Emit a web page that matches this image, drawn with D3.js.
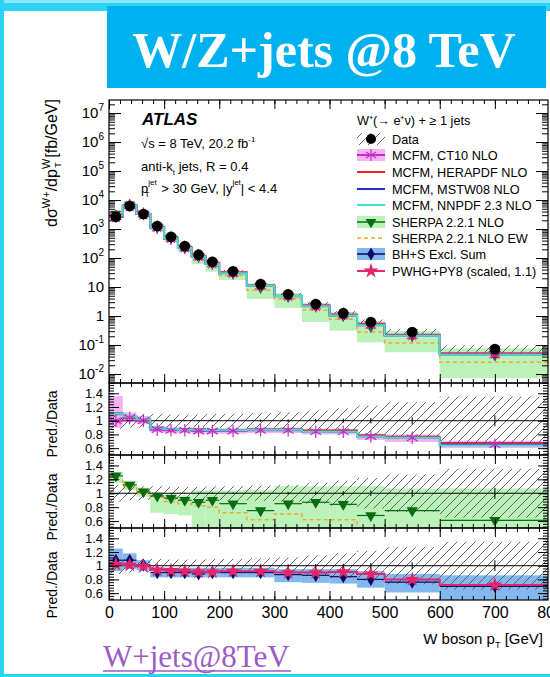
<!DOCTYPE html>
<html>
<head>
<meta charset="utf-8">
<script src="https://d3js.org/d3.v7.min.js"></script>
<style>
body { margin:0; background:#fff; }
svg text { font-family: "Liberation Sans", Arial, sans-serif; fill:#000; }
</style>
</head>
<body>
<svg id="chart" width="550" height="677"></svg>
<script>
// ---- data ----
var binLo = [0,25,50,75,100,125,150,175,200,250,300,350,400,450,500,600];
var binHi = [25,50,75,100,125,150,175,200,250,300,350,400,450,500,600,800];
var dataXs = [2650,6200,3300,1270,540,257,130,74,35,12.6,5.6,2.6,1.25,0.62,0.28,0.072];
var dataErr = [0.12,0.10,0.10,0.10,0.09,0.09,0.09,0.10,0.10,0.11,0.12,0.15,0.18,0.22,0.27,0.35];
var dataStat = [0.005,0.004,0.004,0.005,0.006,0.007,0.008,0.01,0.01,0.015,0.02,0.025,0.03,0.04,0.05,0.08];

var ct10   = [1.00,1.04,1.00,0.87,0.86,0.86,0.85,0.85,0.85,0.86,0.86,0.84,0.84,0.77,0.75,0.65];
var ct10Lo = [0.90,0.98,0.95,0.83,0.82,0.82,0.81,0.81,0.81,0.82,0.82,0.80,0.80,0.72,0.69,0.60];
var ct10Hi = [1.36,1.12,1.07,0.92,0.90,0.90,0.89,0.89,0.89,0.90,0.90,0.88,0.88,0.81,0.80,0.71];
var hera   = [1.09,1.05,1.01,0.89,0.88,0.88,0.88,0.87,0.87,0.88,0.88,0.86,0.86,0.79,0.77,0.68];
var mstw   = [1.11,1.06,1.02,0.90,0.88,0.87,0.87,0.86,0.86,0.87,0.87,0.85,0.84,0.78,0.76,0.66];
var nnpdf  = [1.10,1.06,1.02,0.89,0.88,0.87,0.87,0.86,0.86,0.87,0.87,0.84,0.84,0.77,0.75,0.64];

var sherpa   = [1.25,1.12,1.02,0.96,0.93,0.90,0.87,0.90,0.85,0.75,0.85,0.87,0.84,0.68,0.75,0.61];
var sherpaLo = [1.15,1.05,0.95,0.72,0.70,0.68,0.48,0.46,0.50,0.31,0.34,0.24,0.25,0.20,0.20,0.10];
var sherpaHi = [1.30,1.18,1.08,0.98,0.97,0.97,1.04,1.04,1.04,1.05,1.10,1.10,1.10,1.10,1.07,1.07];
var sherpaEW = [1.20,1.10,1.00,0.94,0.88,0.85,0.82,0.80,0.72,0.62,0.70,0.62,0.62,0.45,0.42,0.35];

var bhs   = [1.08,1.08,1.01,0.90,0.90,0.90,0.88,0.90,0.90,0.90,0.87,0.86,0.84,0.80,0.76,0.70];
var bhsLo = [0.92,0.95,0.93,0.83,0.83,0.83,0.83,0.83,0.83,0.83,0.76,0.75,0.74,0.68,0.61,0.40];
var bhsHi = [1.25,1.18,1.08,0.97,0.97,0.97,0.97,0.97,0.97,0.97,0.95,0.95,0.95,0.92,0.88,0.86];
var pwhg  = [1.02,1.01,0.99,0.94,0.93,0.92,0.91,0.91,0.92,0.92,0.90,0.90,0.91,0.88,0.80,0.72];

var xTickVals = [0,100,200,300,400,500,600,700,800];
var ratioTickVals = [0.6,0.8,1,1.2,1.4];
var decades = [-2,-1,0,1,2,3,4,5,6,7];
var legendLabels = ["Data","MCFM, CT10 NLO","MCFM, HERAPDF NLO","MCFM, MSTW08 NLO","MCFM, NNPDF 2.3 NLO",
  "SHERPA 2.2.1 NLO","SHERPA 2.2.1 NLO EW","BH+S Excl. Sum","PWHG+PY8 (scaled, 1.1)"];

// colours
var cMag = "#c12fc4", cMagBand = "#f6b3f4", cRed = "#e4262c", cBlue = "#2b2bcf", cCyan = "#3fe0cf";
var cGreen = "#0b6b12", cGreenBand = "#baf2b9", cOrange = "#f2a72e";
var cNavy = "#0b0b66", cBlueBand = "#82b8ee", cPink = "#e3256d";

var svg = d3.select("#chart");

// ---- page decoration ----
svg.append("rect").attr("x",0).attr("y",0).attr("width",550).attr("height",11).attr("fill","#2cd3f6");
svg.append("rect").attr("x",0).attr("y",0).attr("width",550).attr("height",3).attr("fill","#8ae8fb");
svg.append("rect").attr("x",0).attr("y",0).attr("width",4).attr("height",677).attr("fill","#2cd3f6");
svg.append("rect").attr("x",0).attr("y",674).attr("width",550).attr("height",3).attr("fill","#2cd3f6");
svg.append("rect").attr("x",107).attr("y",6).attr("width",439).attr("height",82).attr("fill","#00b1ef");
svg.append("text").attr("x",324).attr("y",67).attr("text-anchor","middle")
  .style("font-family","'Liberation Serif', 'Times New Roman', serif").style("font-weight","bold")
  .style("font-size","50px").style("fill","#fff").text("W/Z+jets @8 TeV");

// ---- scales ----
var X0 = 109, X1 = 548;
var x = d3.scaleLinear().domain([0,800]).range([109,550]);
var yMain = d3.scaleLog().domain([Math.pow(10,-2.31), Math.pow(10,7.45)]).range([383,100]);
var panels = [{top:383,bottom:455},{top:455,bottom:528},{top:528,bottom:600}];
var yR = panels.map(function(p){ return d3.scaleLinear().domain([0.5,1.55]).range([p.bottom,p.top]); });

var defs = svg.append("defs");
var pat = defs.append("pattern").attr("id","hatch").attr("patternUnits","userSpaceOnUse")
  .attr("width",9).attr("height",9);
pat.append("path").attr("d","M0,9 L9,0 M-3,3 L3,-3 M6,12 L12,6")
  .attr("stroke","#555").attr("stroke-width",0.9);
[{id:"clipMain",top:100,bottom:383}].concat(panels.map(function(p,i){return {id:"clipR"+i,top:p.top,bottom:p.bottom};}))
  .forEach(function(c){
    defs.append("clipPath").attr("id",c.id).append("rect")
      .attr("x",X0).attr("y",c.top).attr("width",X1-X0).attr("height",c.bottom-c.top);
  });

var idx = d3.range(binLo.length);
function stepPts(vals){
  var pts = [];
  idx.forEach(function(i){ pts.push([binLo[i], vals[i]]); pts.push([binHi[i], vals[i]]); });
  return pts;
}
function mid(i){ return (binLo[i]+binHi[i])/2; }
function times(r){ return r.map(function(v,i){ return v*dataXs[i]; }); }

function drawBand(g, ys, lo, hi, fill){
  g.selectAll(null).data(idx).join("rect")
    .attr("x", function(i){ return x(binLo[i]); })
    .attr("width", function(i){ return x(binHi[i]) - x(binLo[i]); })
    .attr("y", function(i){ return ys(hi[i]); })
    .attr("height", function(i){ return Math.max(0, ys(lo[i]) - ys(hi[i])); })
    .attr("fill", fill);
}
function drawStep(g, ys, vals, color, w, dash){
  var line = d3.line().x(function(d){ return x(d[0]); }).y(function(d){ return ys(d[1]); });
  g.append("path").attr("d", line(stepPts(vals))).attr("fill","none")
    .attr("stroke",color).attr("stroke-width",w).attr("stroke-dasharray",dash||null);
}
function drawHBars(g, ys, vals, color){
  g.selectAll(null).data(idx).join("line")
    .attr("x1", function(i){ return x(binLo[i]); }).attr("x2", function(i){ return x(binHi[i]); })
    .attr("y1", function(i){ return ys(vals[i]); }).attr("y2", function(i){ return ys(vals[i]); })
    .attr("stroke",color).attr("stroke-width",1.2);
}
function drawMarkers(g, ys, vals, type, size, fill, stroke, rot){
  g.selectAll(null).data(idx).join("path")
    .attr("d", d3.symbol().type(type).size(size))
    .attr("transform", function(i){ return "translate("+x(mid(i))+","+ys(vals[i])+")"+(rot?" rotate("+rot+")":""); })
    .attr("fill", fill).attr("stroke", stroke||"none").attr("stroke-width",1.2);
}

// ---- main panel ----
var gm = svg.append("g").attr("clip-path","url(#clipMain)");
drawBand(gm, yMain, times(bhsLo), times(bhsHi), cBlueBand);
drawBand(gm, yMain, times(sherpaLo), times(sherpaHi), cGreenBand);
drawBand(gm, yMain, times(ct10Lo), times(ct10Hi), cMagBand);
drawBand(gm, yMain, dataXs.map(function(v,i){return v*(1-dataErr[i]);}), dataXs.map(function(v,i){return v*(1+dataErr[i]);}), "url(#hatch)");
drawStep(gm, yMain, times(sherpaEW), cOrange, 1.5, "4,3");
drawStep(gm, yMain, times(ct10), cMag, 2);
drawStep(gm, yMain, times(mstw), cBlue, 1.5);
drawStep(gm, yMain, times(hera), cRed, 1.5);
drawStep(gm, yMain, times(pwhg), cPink, 2);
drawStep(gm, yMain, times(nnpdf), cCyan, 2);
drawMarkers(gm, yMain, times(sherpa), d3.symbolTriangle, 50, cGreen, null, 180);
drawMarkers(gm, yMain, times(bhs), d3.symbolDiamond, 45, cNavy);
drawMarkers(gm, yMain, times(ct10), d3.symbolAsterisk, 110, "none", cMag);
drawMarkers(gm, yMain, times(pwhg), d3.symbolStar, 60, cPink);
drawMarkers(gm, yMain, dataXs, d3.symbolCircle, 90, "#000");

// ---- ratio panels ----
var gr = panels.map(function(p,i){ return svg.append("g").attr("clip-path","url(#clipR"+i+")"); });
var hatchLo = dataErr.map(function(e){ return 1-e; }), hatchHi = dataErr.map(function(e){ return 1+e; });

drawBand(gr[0], yR[0], ct10Lo, ct10Hi, cMagBand);
drawBand(gr[1], yR[1], sherpaLo, sherpaHi, cGreenBand);
drawBand(gr[2], yR[2], bhsLo, bhsHi, cBlueBand);
gr.forEach(function(g,k){
  drawBand(g, yR[k], hatchLo, hatchHi, "url(#hatch)");
  g.append("line").attr("x1",X0).attr("x2",X1).attr("y1",yR[k](1)).attr("y2",yR[k](1))
    .attr("stroke","#000").attr("stroke-width",1);
});
// panel 1: MCFM
drawStep(gr[0], yR[0], ct10, cMag, 2);
drawStep(gr[0], yR[0], mstw, cBlue, 1.5);
drawStep(gr[0], yR[0], hera, cRed, 1.5);
drawStep(gr[0], yR[0], nnpdf, cCyan, 2);
drawMarkers(gr[0], yR[0], ct10, d3.symbolAsterisk, 110, "none", cMag);
// panel 2: SHERPA
drawStep(gr[1], yR[1], sherpaEW, cOrange, 1.5, "4,3");
drawHBars(gr[1], yR[1], sherpa, cGreen);
drawMarkers(gr[1], yR[1], sherpa, d3.symbolTriangle, 55, cGreen, null, 180);
// panel 3: BH+S and PWHG
drawHBars(gr[2], yR[2], bhs, cNavy);
drawMarkers(gr[2], yR[2], bhs, d3.symbolDiamond, 50, cNavy);
drawStep(gr[2], yR[2], pwhg, cPink, 2);
drawMarkers(gr[2], yR[2], pwhg, d3.symbolStar, 70, cPink);
// data stat bars
gr.forEach(function(g,k){
  g.selectAll(null).data(idx).join("line")
    .attr("x1", function(i){ return x(mid(i)); }).attr("x2", function(i){ return x(mid(i)); })
    .attr("y1", function(i){ return yR[k](1-dataStat[i]); }).attr("y2", function(i){ return yR[k](1+dataStat[i]); })
    .attr("stroke","#000").attr("stroke-width",1);
});

// ---- axes & frames ----
var xMinor = d3.range(0,801,20);
var allPanels = [{top:100,bottom:383}].concat(panels);
allPanels.forEach(function(p){
  svg.append("g").attr("transform","translate(0,"+p.top+")")
    .call(d3.axisTop(x).tickValues(xMinor).tickSize(-4).tickFormat(""));
  svg.append("g").attr("transform","translate(0,"+p.top+")")
    .call(d3.axisTop(x).tickValues(xTickVals).tickSize(-9).tickFormat(""));
  svg.append("g").attr("transform","translate(0,"+p.bottom+")")
    .call(d3.axisBottom(x).tickValues(xMinor).tickSize(-4).tickFormat(""));
  svg.append("g").attr("transform","translate(0,"+p.bottom+")")
    .call(d3.axisBottom(x).tickValues(xTickVals).tickSize(-9).tickFormat(""));
});
// x labels
svg.append("g").attr("transform","translate(0,600)")
  .call(d3.axisBottom(x).tickValues(xTickVals).tickSize(0).tickPadding(7).tickFormat(d3.format("d")))
  .call(function(g){ g.selectAll("text").style("font-size","16px").style("font-family","'Liberation Sans', Arial"); });

// main y axis (log)
var logMinor = [];
for (var k = -3; k <= 7; k++) for (var m = 2; m <= 9; m++) {
  var v = m*Math.pow(10,k);
  if (v > yMain.domain()[0] && v < yMain.domain()[1]) logMinor.push(v);
}
var decVals = decades.map(function(k){ return Math.pow(10,k); });
[[d3.axisLeft, X0], [d3.axisRight, X1]].forEach(function(a){
  svg.append("g").attr("transform","translate("+a[1]+",0)")
    .call(a[0](yMain).tickValues(logMinor).tickSize(-6).tickFormat(""));
  svg.append("g").attr("transform","translate("+a[1]+",0)")
    .call(a[0](yMain).tickValues(decVals).tickSize(-12).tickFormat(""));
});
svg.append("g").attr("transform","translate("+X0+",0)")
  .call(d3.axisLeft(yMain).tickValues(decVals).tickSize(0).tickPadding(5).tickFormat(""))
  .call(function(g){
    g.selectAll(".tick text").each(function(v){
      var t = d3.select(this).style("font-size","15px").style("font-family","'Liberation Sans', Arial");
      var kk = Math.round(Math.log10(v));
      if (kk === 0) t.text("1");
      else if (kk === 1) t.text("10");
      else {
        t.append("tspan").text("10");
        t.append("tspan").attr("dy","-7").style("font-size","10px").text(kk);
      }
    });
  });

// ratio y axes
var rMinor = d3.range(0.52,1.55,0.04);
panels.forEach(function(p,k){
  [[d3.axisLeft, X0], [d3.axisRight, X1]].forEach(function(a){
    svg.append("g").attr("transform","translate("+a[1]+",0)")
      .call(a[0](yR[k]).tickValues(rMinor).tickSize(-5).tickFormat(""));
    svg.append("g").attr("transform","translate("+a[1]+",0)")
      .call(a[0](yR[k]).tickValues(ratioTickVals).tickSize(-10).tickFormat(""));
  });
  svg.append("g").attr("transform","translate("+X0+",0)")
    .call(d3.axisLeft(yR[k]).tickValues(ratioTickVals).tickSize(0).tickPadding(6).tickFormat(d3.format("")))
    .call(function(g){ g.selectAll("text").style("font-size","13px").style("font-family","'Liberation Sans', Arial"); });
});
svg.selectAll(".domain").remove();
svg.selectAll(".tick line").attr("stroke","#000");

allPanels.forEach(function(p){
  svg.append("rect").attr("x",X0).attr("y",p.top).attr("width",X1-X0).attr("height",p.bottom-p.top)
    .attr("fill","none").attr("stroke","#000").attr("stroke-width",1.2);
});

// ---- axis titles ----
var yt = svg.append("text").attr("transform","translate(57,163) rotate(-90)")
  .attr("text-anchor","middle").style("font-size","16px");
yt.append("tspan").text("dσ");
yt.append("tspan").attr("dy",-7).style("font-size","11px").text("W+");
yt.append("tspan").attr("dy",7).text("/dp");
yt.append("tspan").attr("dy",-7).style("font-size","11px").text("W");
yt.append("tspan").attr("dx",-9).attr("dy",11).style("font-size","9px").text("T");
yt.append("tspan").attr("dy",-4).text(" [fb/GeV]");

[424,507,585].forEach(function(cy){
  svg.append("text").attr("transform","translate(57,"+cy+") rotate(-90)")
    .attr("text-anchor","middle").style("font-size","14px").text("Pred./Data");
});

var xt = svg.append("text").attr("x",543).attr("y",644).attr("text-anchor","end").style("font-size","15px");
xt.append("tspan").text("W boson p");
xt.append("tspan").attr("dy",4).style("font-size","9px").text("T");
xt.append("tspan").attr("dy",-4).text(" [GeV]");

// ---- annotations ----
svg.append("text").attr("x",142).attr("y",125).style("font-size","17px")
  .style("font-weight","bold").style("font-style","italic").text("ATLAS");
var a1 = svg.append("text").attr("x",141).attr("y",148).style("font-size","13px");
a1.append("tspan").text("√s = 8 TeV, 20.2 fb");
a1.append("tspan").attr("dy",-6).style("font-size","8px").text("-1");
var a2 = svg.append("text").attr("x",141).attr("y",171).style("font-size","13px");
a2.append("tspan").text("anti-k");
a2.append("tspan").attr("dy",4).style("font-size","8px").text("t");
a2.append("tspan").attr("dy",-4).text(" jets, R = 0.4");
var a3 = svg.append("text").attr("x",141).attr("y",193).style("font-size","13px");
a3.append("tspan").text("p");
a3.append("tspan").attr("dy",-8).style("font-size","8px").text("jet");
a3.append("tspan").attr("dx",-12).attr("dy",12).style("font-size","8px").text("T");
a3.append("tspan").attr("dx",8).attr("dy",-4).text(" > 30 GeV, |y");
a3.append("tspan").attr("dy",-8).style("font-size","8px").text("jet");
a3.append("tspan").attr("dy",8).text("| < 4.4");

// ---- legend ----
svg.append("text").attr("x",357).attr("y",125).style("font-size","12.7px").text("W⁺(→ e⁺ν) + ≥ 1 jets");
var legY = [139,155,172,189,205,222,238,254,271];
var lg = svg.append("g");
legendLabels.forEach(function(lab,i){
  lg.append("text").attr("x",392).attr("y",legY[i]+4.5).style("font-size","12.7px").text(lab);
});
function legBand(i, fill){ lg.append("rect").attr("x",357).attr("y",legY[i]-6).attr("width",28).attr("height",12).attr("fill",fill); }
function legLine(i, color, w, dash){ lg.append("line").attr("x1",357).attr("x2",385).attr("y1",legY[i]).attr("y2",legY[i])
  .attr("stroke",color).attr("stroke-width",w).attr("stroke-dasharray",dash||null); }
function legMark(i, type, size, fill, stroke, rot){ lg.append("path").attr("d",d3.symbol().type(type).size(size)())
  .attr("transform","translate(371,"+legY[i]+")"+(rot?" rotate("+rot+")":"")).attr("fill",fill).attr("stroke",stroke||"none").attr("stroke-width",1.2); }
legBand(0, "url(#hatch)"); legMark(0, d3.symbolCircle, 80, "#000");
legBand(1, cMagBand); legLine(1, cMag, 2); legMark(1, d3.symbolAsterisk, 100, "none", cMag);
legLine(2, cRed, 2); legLine(3, cBlue, 2); legLine(4, cCyan, 2);
legBand(5, cGreenBand); legLine(5, cGreen, 1.5); legMark(5, d3.symbolTriangle, 50, cGreen, null, 180);
legLine(6, cOrange, 1.5, "4,3");
legBand(7, cBlueBand); legLine(7, cNavy, 1.5); legMark(7, d3.symbolDiamond, 50, cNavy);
legLine(8, cPink, 2); legMark(8, d3.symbolStar, 70, cPink);

// ---- footer link ----
svg.append("text").attr("x",103).attr("y",667)
  .style("font-family","'Liberation Serif', 'Times New Roman', serif").style("font-size","31px")
  .style("fill","#9b5cc9").text("W+jets@8TeV");
svg.append("line").attr("x1",103).attr("x2",291).attr("y1",671).attr("y2",671)
  .attr("stroke","#9b5cc9").attr("stroke-width",1.3);
</script>
</body>
</html>
